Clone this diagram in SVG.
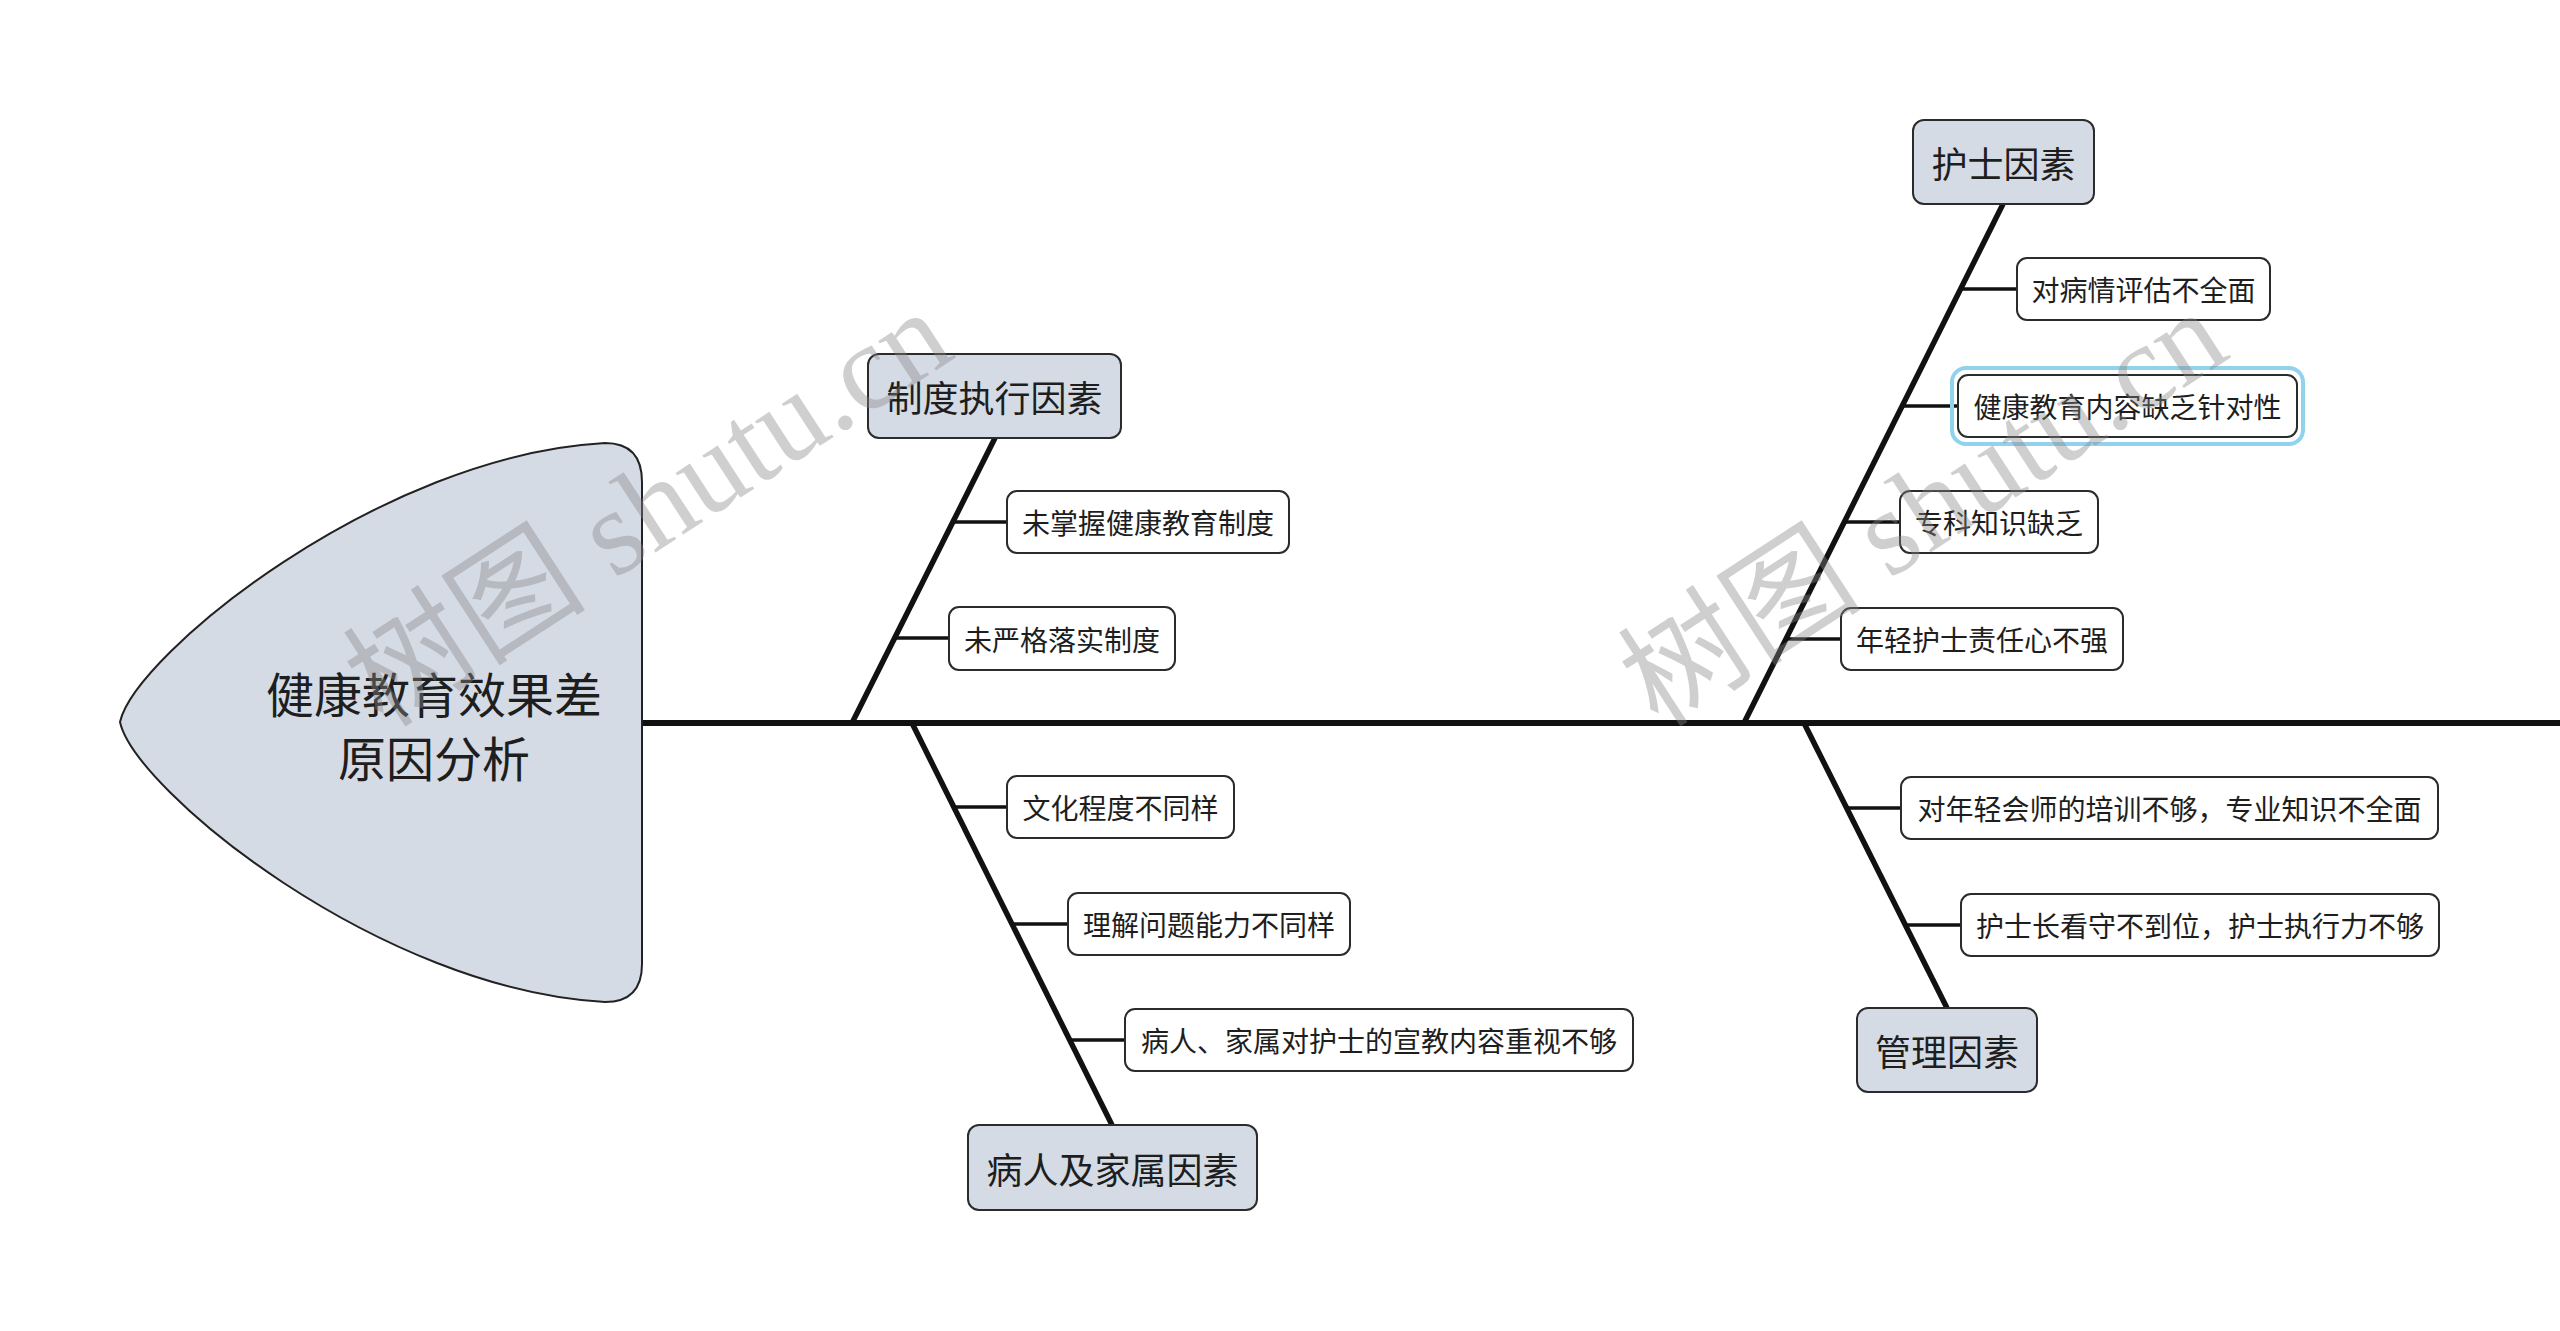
<svg xmlns="http://www.w3.org/2000/svg" width="2560" height="1331" viewBox="0 0 2560 1331">
<style>
.t{font-family:"Noto Sans CJK SC","Noto Sans",sans-serif;fill:#1e1e1e;text-anchor:middle;dominant-baseline:central}
.hd rect{fill:#d5dbe5;stroke:#2b2b2b;stroke-width:2}
.hd text{font-size:36px}
.sb rect{fill:#fff;stroke:#2b2b2b;stroke-width:2}
.sb text{font-size:28px}
.spine{stroke:#111;stroke-width:6;fill:none}
.bone{stroke:#111;stroke-width:5.5;fill:none;stroke-linecap:butt}
.rib{stroke:#111;stroke-width:3.5;fill:none}
.wm{font-family:"Liberation Serif","Noto Sans CJK SC",serif;font-size:122px;fill:#888;fill-opacity:0.4;text-anchor:middle;dominant-baseline:central}
</style>
<rect width="2560" height="1331" fill="#fff"/>
<g id="connectors">
<line class="spine" x1="642" y1="723" x2="2560" y2="723"/>
<line class="bone" x1="852" y1="723" x2="995" y2="438"/>
<line class="bone" x1="912" y1="723" x2="1112" y2="1125"/>
<line class="bone" x1="1744" y1="723" x2="2003" y2="204"/>
<line class="bone" x1="1804" y1="723" x2="1947" y2="1008"/>
<line class="rib" x1="953" y1="522" x2="1007" y2="522"/>
<line class="rib" x1="895" y1="638" x2="949" y2="638"/>
<line class="rib" x1="954" y1="807" x2="1007" y2="807"/>
<line class="rib" x1="1013" y1="924" x2="1068" y2="924"/>
<line class="rib" x1="1070" y1="1040" x2="1125" y2="1040"/>
<line class="rib" x1="1961" y1="289" x2="2017" y2="289"/>
<line class="rib" x1="1903" y1="406" x2="1958" y2="406"/>
<line class="rib" x1="1844" y1="522" x2="1900" y2="522"/>
<line class="rib" x1="1786" y1="639" x2="1841" y2="639"/>
<line class="rib" x1="1847" y1="808" x2="1901" y2="808"/>
<line class="rib" x1="1905" y1="925" x2="1961" y2="925"/>
</g>
<g id="head">
<path d="M 605 443 Q 642 443 642 482 L 642 964 Q 642 1002 605 1002 C 380 990 135 790 120 722 C 135 655 380 455 605 443 Z" fill="#d5dbe5" stroke="#222" stroke-width="2"/>
<text class="t" x="434" y="692" font-size="48">健康教育效果差</text>
<text class="t" x="434" y="756" font-size="48">原因分析</text>
</g>
<g id="n1" class="hd"><rect x="868" y="354" width="253" height="84" rx="11"/><text class="t" x="994.5" y="396">制度执行因素</text></g>
<g id="n1a" class="sb"><rect x="1007" y="491" width="282" height="62" rx="10"/><text class="t" x="1148" y="522">未掌握健康教育制度</text></g>
<g id="n1b" class="sb"><rect x="949" y="607" width="226" height="63" rx="10"/><text class="t" x="1062" y="638.5">未严格落实制度</text></g>
<g id="n2" class="hd"><rect x="968" y="1125" width="289" height="85" rx="11"/><text class="t" x="1112.5" y="1167.5">病人及家属因素</text></g>
<g id="n2a" class="sb"><rect x="1007" y="776" width="227" height="62" rx="10"/><text class="t" x="1120.5" y="807">文化程度不同样</text></g>
<g id="n2b" class="sb"><rect x="1068" y="893" width="282" height="62" rx="10"/><text class="t" x="1209" y="924">理解问题能力不同样</text></g>
<g id="n2c" class="sb"><rect x="1125" y="1009" width="508" height="62" rx="10"/><text class="t" x="1379" y="1040">病人、家属对护士的宣教内容重视不够</text></g>
<g id="n3" class="hd"><rect x="1913" y="120" width="181" height="84" rx="11"/><text class="t" x="2003.5" y="162">护士因素</text></g>
<g id="n3a" class="sb"><rect x="2017" y="258" width="253" height="62" rx="10"/><text class="t" x="2143.5" y="289">对病情评估不全面</text></g>
<g id="n3b" class="sb"><rect x="1952" y="368" width="351" height="76" rx="14" style="fill:none;stroke:#93d2ec;stroke-width:4"/><rect x="1958" y="375" width="339" height="62" rx="10"/><text class="t" x="2127.5" y="406">健康教育内容缺乏针对性</text></g>
<g id="n3c" class="sb"><rect x="1900" y="491" width="198" height="62" rx="10"/><text class="t" x="1999" y="522">专科知识缺乏</text></g>
<g id="n3d" class="sb"><rect x="1841" y="608" width="282" height="62" rx="10"/><text class="t" x="1982" y="639">年轻护士责任心不强</text></g>
<g id="n4" class="hd"><rect x="1857" y="1008" width="180" height="84" rx="11"/><text class="t" x="1947" y="1050">管理因素</text></g>
<g id="n4a" class="sb"><rect x="1901" y="777" width="537" height="62" rx="10"/><text class="t" x="2169.5" y="808">对年轻会师的培训不够，专业知识不全面</text></g>
<g id="n4b" class="sb"><rect x="1961" y="894" width="478" height="62" rx="10"/><text class="t" x="2200" y="925">护士长看守不到位，护士执行力不够</text></g>
<g id="watermark">
<text class="wm" transform="translate(648 508) rotate(-33)">树图 shutu.cn</text>
<text class="wm" transform="translate(1923 508) rotate(-33)">树图 shutu.cn</text>
</g>
</svg>
